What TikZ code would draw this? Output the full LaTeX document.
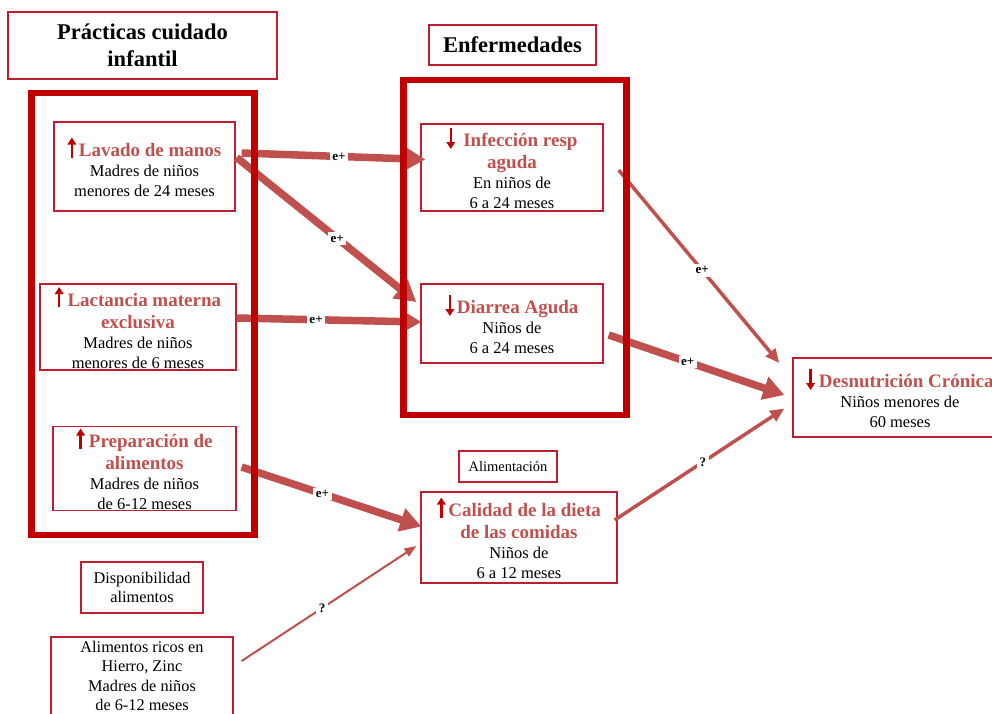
\documentclass[tikz,border=0pt]{standalone}
\usepackage{fontspec}
\setmainfont{Liberation Serif}
\usetikzlibrary{arrows.meta,calc}

\definecolor{framered}{HTML}{C00000}
\definecolor{boxred}{RGB}{190,30,45}
\definecolor{headred}{HTML}{C0504D}

\newcommand{\hd}{\fontsize{19}{20}\selectfont\bfseries\color{headred}}
\newcommand{\upmark}{\tikz[baseline=0pt]\draw[framered,line width=2.4pt,-{Triangle[length=7pt,width=8.5pt]}] (0pt,-1pt) -- (0pt,19pt);}
\newcommand{\downmark}{\tikz[baseline=0pt]\draw[framered,line width=2.4pt,-{Triangle[length=7pt,width=8.5pt]}] (0pt,18pt) -- (0pt,-3pt);}

\tikzset{
  factorbox/.style={draw=boxred, line width=1.3pt, align=center, inner sep=1pt, font=\fontsize{16.5}{20}\selectfont},
  titlebox/.style={draw=boxred, line width=1.3pt, align=center, inner sep=1pt, font=\fontsize{22.5}{27}\selectfont\bfseries},
  smallbox/.style={draw=boxred, line width=1.3pt, align=center, inner sep=1pt, font=\fontsize{16.3}{19.5}\selectfont},
  groupframe/.style={draw=framered, line width=6.5pt},
  bigarrow/.style={draw=headred, line width=7.5pt, -{Triangle[length=21pt,width=23pt]}},
  midarrow/.style={draw=headred, line width=3.5pt, -{Triangle[length=14pt,width=12pt]}},
  thinarrow/.style={draw=headred, line width=2pt, -{Triangle[length=12pt,width=9pt]}},
  elabel/.style={fill=white, inner sep=2.5pt, font=\fontsize{13}{14}\selectfont\bfseries}
}

\begin{document}
\begin{tikzpicture}[x=1pt, y=-1pt]
    \useasboundingbox (0,0) rectangle (992,713);
    \clip (0,0) rectangle (992,713);

    % titles
    \node[titlebox, minimum width=269pt, minimum height=67pt] (practicas) at (142.5,45.5) {Prácticas cuidado\\infantil};
    \node[titlebox, minimum width=167pt, minimum height=40pt] (enfermedades) at (512.5,45) {Enfermedades};

    % child care practices
    \node[factorbox, minimum width=181pt, minimum height=89pt] (lavado) at (144.5,166.5)
        {\upmark\,\hd Lavado de manos\\ Madres de niños\\ menores de 24 meses};
    \node[factorbox, minimum width=196pt, minimum height=86pt] (lactancia) at (138,327)
        {\upmark\ \hd Lactancia materna\\[2pt] \hd exclusiva\\ Madres de niños\\ menores de 6 meses};
    \node[factorbox, minimum width=183pt, minimum height=79pt] (preparacion) at (144.5,468.5)
        {\upmark\ \hd Preparación de\\[2pt] \hd alimentos\\ Madres de niños\\ de 6-12 meses};
    \node[smallbox, minimum width=122pt, minimum height=51pt] (disponibilidad) at (142,587.5) {Disponibilidad\\ alimentos};
    \node[smallbox, minimum width=182pt, minimum height=78pt] (alimricos) at (142,676)
        {Alimentos ricos en\\ Hierro, Zinc\\ Madres de niños\\ de 6-12 meses};

    % diseases
    \node[factorbox, minimum width=182pt, minimum height=87pt] (infeccion) at (512,167.5)
        {\downmark\ \ \hd Infección resp\\[2pt] \hd aguda\\ En niños de\\ 6 a 24 meses};
    \node[factorbox, minimum width=182pt, minimum height=79pt] (diarrea) at (512,323.5)
        {\downmark\,\hd Diarrea Aguda\\ Niños de\\ 6 a 24 meses};

    % feeding
    \node[smallbox, font=\fontsize{14.5}{17}\selectfont, minimum width=98pt, minimum height=31pt] (alimentacion) at (508,466.5) {Alimentación};
    \node[factorbox, minimum width=196pt, minimum height=91pt] (calidad) at (519,537.5)
        {\upmark\,\hd Calidad de la dieta\\[2pt] \hd de las comidas\\ Niños de\\ 6 a 12 meses};

    % outcome
    \node[factorbox, minimum width=214pt, minimum height=79pt] (desnutricion) at (900,397.5)
        {\downmark\ \hd Desnutrición Crónica\\ Niños menores de\\ 60 meses};

    % effects
    \draw[bigarrow] ($(lavado.east)+(6,-13.5)$) -- node[elabel,pos=.53]{e+} ($(infeccion.west)+(5,-8)$);
    \draw[bigarrow] ($(lavado.east)+(1,-9)$) -- node[elabel,pos=.56]{e+} ($(diarrea.west)+(-4,-21.5)$);
    \draw[bigarrow] ($(lactancia.east)+(0,-9)$) -- node[elabel,pos=.43]{e+} ($(diarrea.west)+(1,-1.5)$);
    \draw[bigarrow] ($(preparacion.east)+(5,-1.5)$) -- node[elabel,pos=.45]{e+} ($(calidad.west)+(1,-11)$);
    \draw[thinarrow] ($(alimricos.east)+(8,-15)$) -- node[elabel,pos=.46]{?} ($(calidad.west)+(-4,8.5)$);
    \draw[midarrow] ($(infeccion.east)+(15,2.5)$) -- node[elabel,pos=.52]{e+} ($(desnutricion.west)+(-13,-34.5)$);
    \draw[bigarrow] ($(diarrea.east)+(5,11.5)$) -- node[elabel,pos=.45]{e+} ($(desnutricion.west)+(-8,-2.5)$);
    \draw[midarrow] ($(calidad.east)+(-3,-17.5)$) -- node[elabel,pos=.52]{?} ($(desnutricion.west)+(-8,11)$);

    % group frames
    \draw[groupframe] (31.5,93) rectangle (254.5,535);
    \draw[groupframe] (403.5,80) rectangle (626.5,415);
\end{tikzpicture}
\end{document}
